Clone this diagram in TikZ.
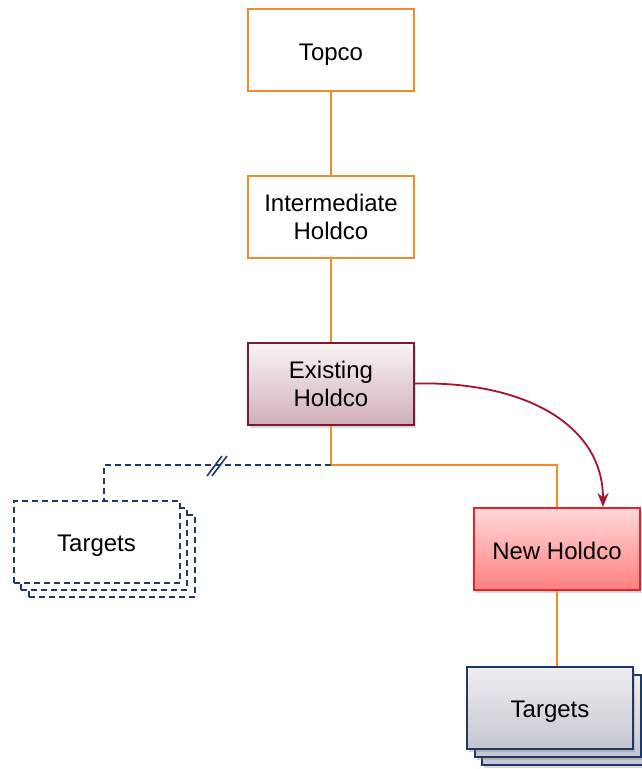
\documentclass[tikz,border=0pt]{standalone}
\usepackage{fontspec}
\setmainfont{Liberation Sans}
\usetikzlibrary{shadows,arrows.meta}
\definecolor{orng}{HTML}{F28C28}
\definecolor{navy}{HTML}{1F3864}
\definecolor{wine}{HTML}{7B1A35}
\definecolor{arrred}{HTML}{A3142F}
\definecolor{nhred}{HTML}{E8202A}
\begin{document}
\begin{tikzpicture}[x=1pt,y=-1pt,
  font=\fontsize{24}{28}\selectfont,
  boxbase/.style={line width=2pt, minimum width=166pt, minimum height=82pt, align=center, inner sep=0pt},
  oneline/.style={text height=20pt, text depth=0pt},
  orbox/.style={boxbase, draw=orng, fill=white},
  ehbox/.style={boxbase, draw=wine, top color=white!70!wine!15, bottom color=wine!35!white,
    drop shadow={opacity=0.3, shadow xshift=2pt, shadow yshift=-3pt}},
  nhbox/.style={boxbase, draw=nhred, top color=red!15!white, bottom color=red!50!white,
    drop shadow={opacity=0.3, shadow xshift=2pt, shadow yshift=-3pt}},
  tgbox/.style={boxbase, draw=navy, top color=blue!3!gray!12!white, bottom color=blue!12!gray!40!white,
    drop shadow={opacity=0.3, shadow xshift=2pt, shadow yshift=-3pt}},
  dashbox/.style={boxbase, draw=navy, fill=white, dash pattern=on 6pt off 4pt},
  orline/.style={draw=orng, line width=2pt},
  dline/.style={draw=navy, line width=2pt, dash pattern=on 6pt off 4pt},
  arrc/.style={draw=arrred, line width=1.8pt, -{Stealth[length=14pt,width=11pt]}}
]
\useasboundingbox (0,0) rectangle (642,769);

\node[orbox, oneline] (top) at (331,50) {Topco};
\node[orbox] (ih) at (331,217) {Intermediate\\Holdco};
\node[ehbox] (eh) at (331,383.5) {Existing\\Holdco};
\node[nhbox, oneline] (nh) at (557,549) {New Holdco};

% dashed targets stack
\node[dashbox] (d3) at (111.5,556) {};
\node[dashbox] (d2) at (104,548.5) {};
\node[dashbox, oneline] (d1) at (96.5,541.5) {Targets};

% blue targets stack
\node[tgbox] (b3) at (565,724) {};
\node[tgbox] (b2) at (557.5,716) {};
\node[tgbox, oneline] (b1) at (550,707.5) {Targets};

\coordinate (jn) at (331,465);
\coordinate (brk) at (217,466);

\path[orline] (top.south) -- (ih.north);
\path[orline] (ih.south) -- (eh.north);
\path[orline] (eh.south) -- (jn) -| (nh.north);
\path[orline] (nh.south) -- (nh.south |- b1.north);
\path[dline] (jn) -| ([xshift=7.5pt]d1.north);
\draw[navy, line width=1.6pt] ([shift={(-10,10)}]brk) -- ([shift={(5,-10)}]brk);
\draw[navy, line width=1.6pt] ([shift={(-5,10)}]brk) -- ([shift={(10,-10)}]brk);

\path[arrc] (eh.east) .. controls (525,381) and (603,425) .. ([xshift=46pt]nh.north);
\end{tikzpicture}
\end{document}
